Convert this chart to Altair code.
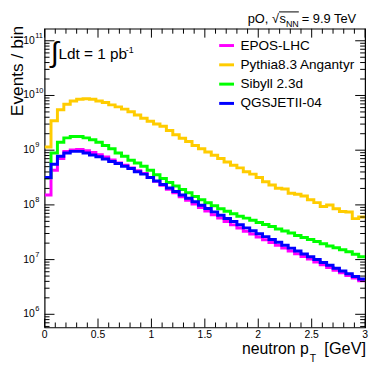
import altair as alt
import pandas as pd

FONT = "Liberation Sans"

models = ["EPOS-LHC", "Pythia8.3 Angantyr", "Sibyll 2.3d", "QGSJETII-04"]
colors = ["#ff00ff", "#ffcc00", "#00ff00", "#0000ff"]

# 50 bins of 0.06 GeV between 0 and 3 GeV
bin_edges = [round(0.06 * i, 2) for i in range(51)]

epos = [1.52e8, 4.31e8, 7.02e8, 9.5e8, 1.01e9, 1.03e9, 9.8e8, 9.1e8, 8.3e8, 7.5e8,
        6.6e8, 5.85e8, 5.31e8, 4.75e8, 4.19e8, 3.76e8, 3.18e8, 2.69e8, 2.28e8, 1.94e8,
        1.66e8, 1.41e8, 1.21e8, 1.04e8, 8.94e7, 7.69e7, 6.62e7, 5.73e7, 4.95e7, 4.31e7,
        3.78e7, 3.30e7, 2.93e7, 2.59e7, 2.30e7, 2.05e7, 1.82e7, 1.62e7, 1.44e7, 1.28e7,
        1.14e7, 1.02e7, 9.05e6, 8.05e6, 7.17e6, 6.41e6, 5.73e6, 5.12e6, 4.59e6, 4.12e6]
pythia = [1.14e9, 3.46e9, 5.47e9, 6.93e9, 7.96e9, 8.53e9, 8.75e9, 8.53e9, 7.96e9, 7.41e9,
          6.73e9, 6.19e9, 5.63e9, 5.03e9, 4.39e9, 3.84e9, 3.39e9, 3.01e9, 2.73e9, 2.28e9,
          1.91e9, 1.66e9, 1.44e9, 1.22e9, 1.06e9, 9.25e8, 8.06e8, 7.02e8, 6.09e8, 5.31e8,
          4.75e8, 4.05e8, 3.65e8, 3.16e8, 2.65e8, 2.31e8, 2.01e8, 1.96e8, 1.63e8, 1.57e8,
          1.46e8, 1.24e8, 1.10e8, 9.35e7, 1.00e8, 8.5e7, 7.6e7, 7.41e7, 5.61e7, 6.01e7]
sibyll = [3.13e8, 8.87e8, 1.40e9, 1.68e9, 1.78e9, 1.78e9, 1.68e9, 1.55e9, 1.40e9, 1.22e9,
          1.06e9, 8.87e8, 7.73e8, 6.54e8, 5.85e8, 5.10e8, 4.31e8, 3.57e8, 3.03e8, 2.56e8,
          2.21e8, 1.92e8, 1.66e8, 1.43e8, 1.24e8, 1.09e8, 9.64e7, 8.5e7, 7.66e7, 6.9e7,
          6.22e7, 5.73e7, 5.22e7, 4.75e7, 4.37e7, 4.02e7, 3.62e7, 3.33e7, 3.06e7, 2.76e7,
          2.54e7, 2.34e7, 2.15e7, 1.94e7, 1.78e7, 1.64e7, 1.51e7, 1.39e7, 1.25e7, 1.13e7]
qgsjet = [3.16e8, 5.54e8, 7.73e8, 8.87e8, 9.51e8, 9.51e8, 8.87e8, 8.2e8, 7.6e8, 6.9e8,
          6.2e8, 5.70e8, 5.10e8, 4.63e8, 4.02e8, 3.65e8, 3.16e8, 2.73e8, 2.36e8, 2.04e8,
          1.76e8, 1.52e8, 1.32e8, 1.14e8, 9.89e7, 8.57e7, 7.45e7, 6.49e7, 5.65e7, 4.95e7,
          4.33e7, 3.80e7, 3.36e7, 2.96e7, 2.63e7, 2.33e7, 2.07e7, 1.83e7, 1.62e7, 1.44e7,
          1.27e7, 1.13e7, 1.00e7, 8.87e6, 7.86e6, 6.96e6, 6.17e6, 5.51e6, 4.93e6, 4.42e6]

x_major = [0, 0.5, 1, 1.5, 2, 2.5, 3]
x_major_labels = ["0", "0.5", "1", "1.5", "2", "2.5", "3"]
x_minor = [round(0.1 * i, 1) for i in range(31) if i % 5 != 0]
y_major = [1e6, 1e7, 1e8, 1e9, 1e10, 1e11]
y_exponents = ["6", "7", "8", "9", "10", "11"]
Y_MIN, Y_MAX = 5.75e5, 1.66e11
y_minor = [k * 10.0 ** e for e in range(5, 12) for k in range(2, 10)
           if Y_MIN <= k * 10.0 ** e <= Y_MAX]

series = {models[0]: epos, models[1]: pythia, models[2]: sibyll, models[3]: qgsjet}
rows = []
for m, vals in series.items():
    for i, v in enumerate(vals):
        rows.append({"model": m, "pt": bin_edges[i], "n": v})
    rows.append({"model": m, "pt": bin_edges[-1], "n": vals[-1]})
df = pd.DataFrame(rows)

W, H = 324, 302
xs = alt.Scale(domain=[0, 3], nice=False, zero=False)
ys = alt.Scale(type="log", domain=[Y_MIN, Y_MAX], nice=False)

lines = alt.Chart(df).mark_line(interpolate="step-after", strokeWidth=3, clip=True).encode(
    x=alt.X("pt:Q", scale=xs, axis=None),
    y=alt.Y("n:Q", scale=ys, axis=None),
    color=alt.Color("model:N", scale=alt.Scale(domain=models, range=colors), sort=models,
                    legend=alt.Legend(orient="none", legendX=175, legendY=8, title=None,
                                      symbolType="stroke", symbolSize=225, symbolStrokeWidth=3,
                                      labelFontSize=13.7, labelFont=FONT, labelColor="black",
                                      rowPadding=3.5, labelOffset=5, padding=0)),
)


def xticks(vals, y0, y1):
    return alt.Chart(pd.DataFrame({"v": vals})).mark_rule(color="black", strokeWidth=1).encode(
        x=alt.X("v:Q", scale=xs, axis=None), y=alt.value(y0), y2=alt.value(y1))


def yticks(vals, x0, x1):
    return alt.Chart(pd.DataFrame({"v": vals})).mark_rule(color="black", strokeWidth=1).encode(
        y=alt.Y("v:Q", scale=ys, axis=None), x=alt.value(x0), x2=alt.value(x1))


tick_layers = [
    xticks(x_major, H, H - 9), xticks(x_minor, H, H - 5),
    xticks(x_major, 0, 9), xticks(x_minor, 0, 5),
    yticks(y_major, 0, 10), yticks(y_minor, 0, 5),
    yticks(y_major, W, W - 10), yticks(y_minor, W, W - 5),
]

xlab = alt.Chart(pd.DataFrame({"v": x_major, "t": x_major_labels})).mark_text(
    align="center", baseline="alphabetic", fontSize=10.5, font=FONT, color="black"
).encode(x=alt.X("v:Q", scale=xs, axis=None), y=alt.value(H + 10.5), text="t:N")

ylab_df = pd.DataFrame({"v": y_major, "exp": y_exponents})
ylab_base = alt.Chart(ylab_df).mark_text(align="right", baseline="middle", fontSize=10.5,
                                         font=FONT, color="black").encode(
    y=alt.Y("v:Q", scale=ys, axis=None), x=alt.value(-10), text=alt.value("10"))
ylab_exp = alt.Chart(ylab_df).mark_text(align="left", baseline="middle", fontSize=7.5, dy=-5,
                                        font=FONT, color="black").encode(
    y=alt.Y("v:Q", scale=ys, axis=None), x=alt.value(-9.5), text="exp:N")


def label(text, x, y, size, align="left", baseline="alphabetic", angle=0):
    return alt.Chart(pd.DataFrame({"t": [text]})).mark_text(
        align=align, baseline=baseline, fontSize=size, font=FONT, color="black", angle=angle
    ).encode(x=alt.value(x), y=alt.value(y), text="t:N")


labels = [
    label("Events / bin", -21.5, -3, 17.5, align="right", baseline="alphabetic", angle=270),
    label("neutron p", 267, 329, 16, align="right"),
    label("T", 268, 336.5, 10.5),
    label("[GeV]", 325, 329, 16.5, align="right"),
    label("pO, \u221a", 237, -6, 13, align="right"),
    label("s", 237.5, -6, 13),
    label("NN", 244, -2, 9),
    label("= 9.9 TeV", 260, -6, 13),
    label("\u222b", 10.5, 24.5, 29, align="center", baseline="middle"),
    label("Ldt = 1 pb", 14, 31, 15.5),
    label("-1", 82, 24.5, 9),
]
overline = alt.Chart(pd.DataFrame({"a": [0]})).mark_rule(color="black", strokeWidth=1).encode(
    x=alt.value(237), x2=alt.value(257), y=alt.value(-17))

chart = alt.layer(lines, *tick_layers, xlab, ylab_base, ylab_exp, overline, *labels).properties(
    width=W, height=H,
    autosize=alt.AutoSizeParams(type="none"),
    padding={"left": 37, "top": 19, "right": 8, "bottom": 36},
).configure(background="white").configure_view(stroke="black", strokeWidth=1.2)

chart.save("out.html", embed_options={"renderer": "svg", "actions": False})
